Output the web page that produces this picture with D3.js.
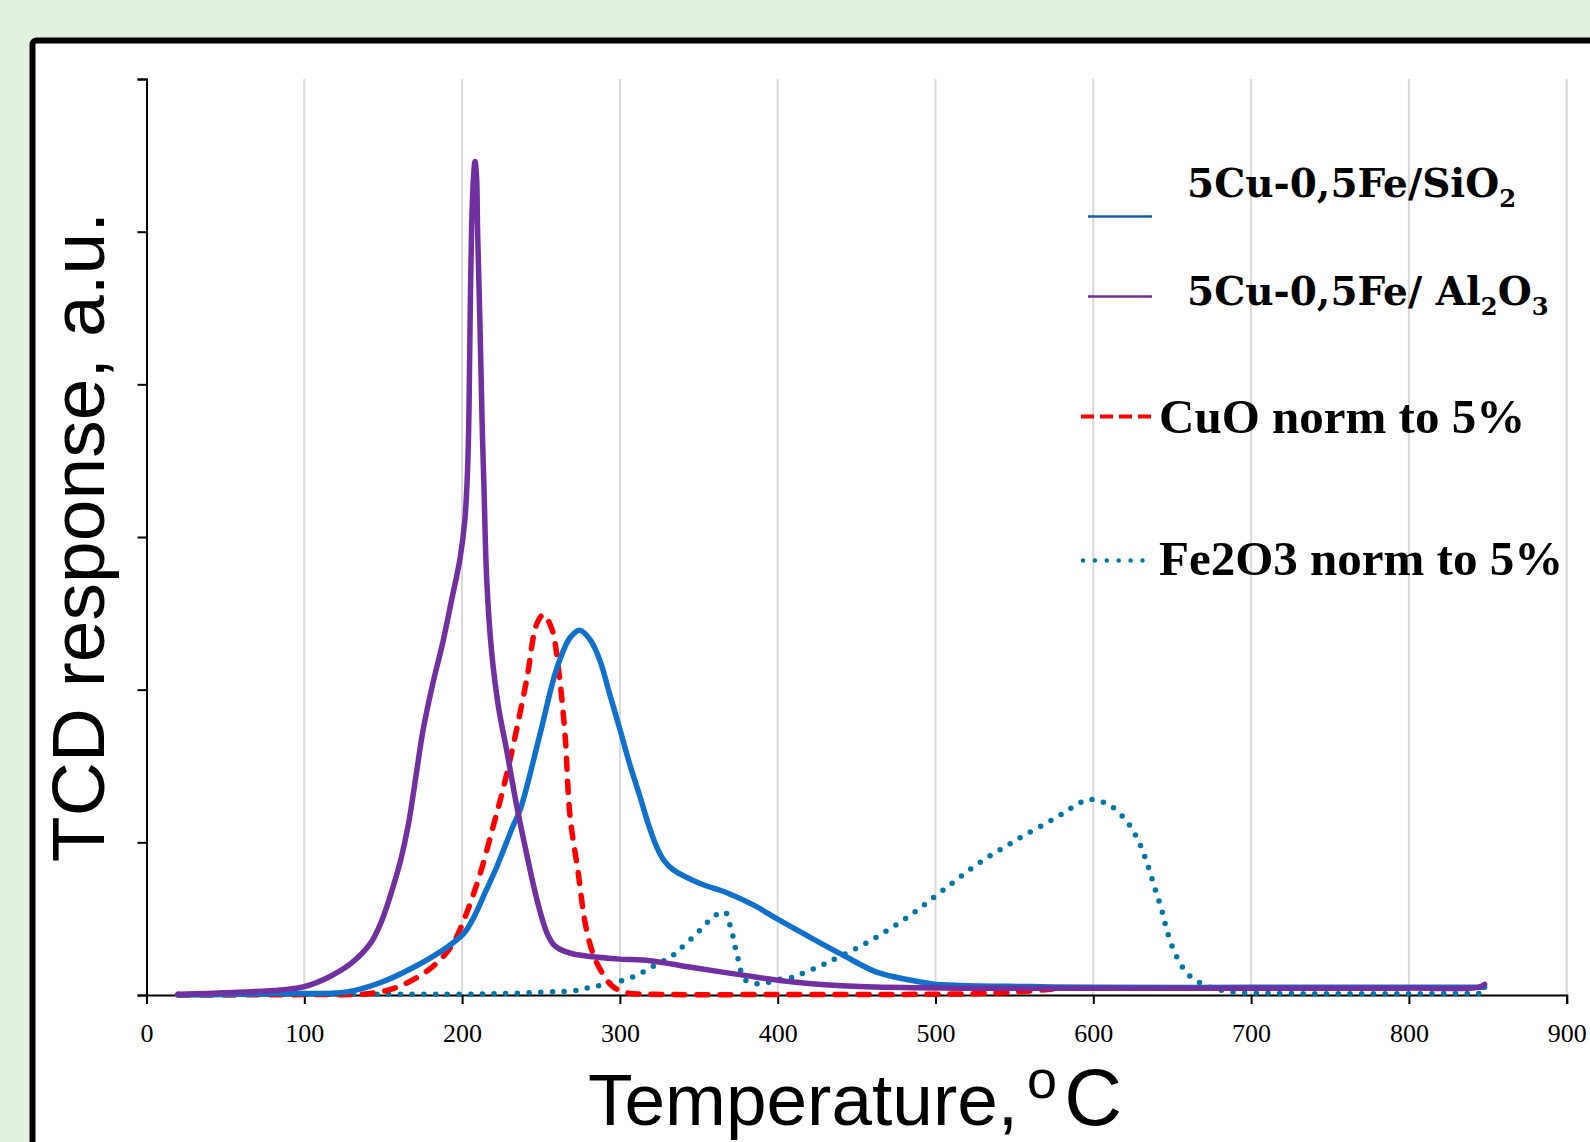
<!DOCTYPE html>
<html><head><meta charset="utf-8">
<script src="https://cdn.jsdelivr.net/npm/d3@7"></script>
<style>html,body{margin:0;padding:0;background:#e2f2de;overflow:hidden}</style>
</head><body>
<svg id="chart" width="1590" height="1142"></svg>
<script>
// ---------- data ----------
const xTicks = [0, 100, 200, 300, 400, 500, 600, 700, 800, 900];
const yTicks = [0, 1, 2, 3, 4, 5, 6];

const tSiO2 = [20, 50, 85, 127, 148, 169, 190, 200.8, 207, 215, 222, 232, 237, 249.4, 260, 268.4, 274.5, 281, 287.4, 293, 300, 306, 312.7, 318, 323.3, 328, 333.8, 350.8, 367.7, 384.5, 399.4, 418.4, 441.6, 462.7, 483.8, 498, 515.5, 560, 600, 700, 800, 848];
const vSiO2 = [0.0, 0.003, 0.01, 0.02, 0.08, 0.18, 0.31, 0.40, 0.50, 0.68, 0.84, 1.10, 1.22, 1.71, 2.14, 2.34, 2.39, 2.33, 2.19, 1.99, 1.74, 1.52, 1.30, 1.12, 0.97, 0.88, 0.82, 0.73, 0.67, 0.59, 0.50, 0.39, 0.26, 0.15, 0.098, 0.072, 0.062, 0.055, 0.05, 0.05, 0.05, 0.05];

const tAl2O3 = [20, 50, 85, 100, 116, 130, 142, 148, 152, 156, 161, 166, 171, 175, 181, 188, 193, 198.7, 201.8, 203.5, 204.4, 205, 206, 207.2, 208.2, 209.2, 209.8, 211.3, 212.8, 213.8, 215.6, 218.7, 223, 228.3, 234.6, 241, 247.3, 253.6, 258, 262, 270, 283, 300, 319, 346, 378, 410, 452, 515, 600, 700, 800, 844, 848];
const vAl2O3 = [0.005, 0.015, 0.033, 0.055, 0.12, 0.21, 0.34, 0.46, 0.57, 0.70, 0.88, 1.12, 1.45, 1.72, 2.02, 2.32, 2.57, 2.86, 3.12, 3.45, 3.85, 4.36, 5.01, 5.35, 5.46, 5.35, 5.01, 4.4, 3.7, 3.35, 2.72, 2.25, 1.89, 1.6, 1.24, 0.92, 0.63, 0.41, 0.33, 0.30, 0.27, 0.25, 0.235, 0.225, 0.18, 0.13, 0.085, 0.055, 0.045, 0.045, 0.045, 0.045, 0.05, 0.07];

const tCuO = [20, 100, 141.6, 158.5, 175.4, 186, 194.4, 203, 211.3, 219.6, 226, 232.5, 241, 247.3, 251.5, 256.8, 261, 265.2, 268.4, 273.6, 277.5, 282, 287.4, 295, 304, 320, 400, 480, 520, 551, 581];
const vCuO = [0.0, 0.003, 0.01, 0.05, 0.14, 0.23, 0.34, 0.54, 0.79, 1.10, 1.35, 1.64, 2.07, 2.43, 2.49, 2.40, 2.14, 1.71, 1.17, 0.80, 0.50, 0.30, 0.17, 0.06, 0.015, 0.005, 0.003, 0.004, 0.008, 0.02, 0.045];

const tFe2O3 = [20, 100, 200, 230, 255.8, 266.3, 274.3, 281, 288.4, 295.8, 303.7, 310.6, 317, 323.3, 330.7, 336, 341, 347.6, 354, 360.3, 366.6, 369.4, 371.3, 372.9, 374.6, 376.3, 379.3, 385.6, 393, 400, 407.3, 414, 431, 456, 481, 504, 527, 552, 577.7, 590, 597, 604, 611, 621.8, 629, 634.5, 639, 643.3, 647, 652.4, 660.6, 673, 688.6, 720, 848];
const vFe2O3 = [0.005, 0.005, 0.005, 0.01, 0.02, 0.024, 0.033, 0.05, 0.065, 0.083, 0.10, 0.13, 0.164, 0.20, 0.24, 0.28, 0.33, 0.39, 0.46, 0.52, 0.545, 0.47, 0.40, 0.32, 0.25, 0.17, 0.10, 0.075, 0.08, 0.10, 0.11, 0.135, 0.21, 0.34, 0.50, 0.68, 0.86, 1.02, 1.17, 1.25, 1.28, 1.27, 1.24, 1.13, 1.0, 0.85, 0.70, 0.56, 0.41, 0.26, 0.13, 0.055, 0.02, 0.01, 0.01];

const seriesNames = ["5Cu-0,5Fe/SiO2", "5Cu-0,5Fe/ Al2O3", "CuO norm to 5%", "Fe2O3 norm to 5%"];
const seriesColors = ["#1170cc", "#7030a0", "#ff0000", "#0077a6"];

// legend label pieces: [text, subscript?]
const legendParts = [
  [["5Cu-0,5Fe/SiO", false], ["2", true]],
  [["5Cu-0,5Fe/ Al", false], ["2", true], ["O", false], ["3", true]],
  [["CuO norm to 5%", false]],
  [["Fe2O3 norm to 5%", false]]
];

// ---------- drawing ----------
const svg = d3.select("#chart");
svg.append("rect").attr("x", 0).attr("y", 0).attr("width", 1590).attr("height", 1142).attr("fill", "#e2f2de");
svg.append("rect").attr("x", 32.5).attr("y", 40.5).attr("width", 1620).attr("height", 1200)
  .attr("rx", 4).attr("fill", "#ffffff").attr("stroke", "#000").attr("stroke-width", 6);

const x = d3.scaleLinear().domain([0, 900]).range([146.5, 1566.7]);
const y = d3.scaleLinear().domain([0, 6]).range([995, 79]);

// gridlines
svg.append("g").selectAll("line").data(xTicks.filter(d => d > 0)).join("line")
  .attr("x1", d => x(d)).attr("x2", d => x(d)).attr("y1", y(6)).attr("y2", y(0))
  .attr("stroke", "#d9d9d9").attr("stroke-width", 2);

// axes
const xAxis = svg.append("g").attr("transform", `translate(0,${y(0)})`)
  .call(d3.axisBottom(x).tickValues(xTicks).tickSize(9).tickFormat(d3.format("d")));
xAxis.select(".domain").attr("stroke", "#000").attr("stroke-width", 2);
xAxis.selectAll(".tick line").attr("stroke", "#000").attr("stroke-width", 2);
xAxis.selectAll(".tick text").attr("font-family", "'Liberation Serif', serif").attr("font-size", 26)
  .attr("fill", "#000").attr("y", 47).attr("dy", 0);

const yAxis = svg.append("g").attr("transform", `translate(${x(0)},0)`)
  .call(d3.axisLeft(y).tickValues(yTicks).tickSize(9).tickFormat(""));
yAxis.select(".domain").attr("stroke", "#000").attr("stroke-width", 2);
yAxis.selectAll(".tick line").attr("stroke", "#000").attr("stroke-width", 2);

// series
const mk = (ts, vs) => ts.map((t, i) => [t, vs[i]]);
const line = d3.line().x(d => x(d[0])).y(d => y(d[1])).curve(d3.curveCatmullRom.alpha(0.5));

const series = [
  {pts: mk(tFe2O3, vFe2O3), color: seriesColors[3], dash: "0,11.7", cap: "round", w: 5.5},
  {pts: mk(tCuO, vCuO), color: seriesColors[2], dash: "11,12", cap: "round", w: 5.5},
  {pts: mk(tSiO2, vSiO2), color: seriesColors[0], dash: null, cap: "round", w: 5.5},
  {pts: mk(tAl2O3, vAl2O3), color: seriesColors[1], dash: null, cap: "round", w: 5.5}
];
svg.append("g").selectAll("path").data(series).join("path")
  .attr("d", d => line(d.pts)).attr("fill", "none")
  .attr("stroke", d => d.color).attr("stroke-width", d => d.w)
  .attr("stroke-linecap", d => d.cap).attr("stroke-linejoin", "round")
  .attr("stroke-dasharray", d => d.dash);

// legend
const legendCfg = [
  {x1: 1088, x2: 1152, ly: 216.5, tx: 1187, ty: 197, size: 39, font: "'DejaVu Serif', serif", color: "#1b5ca6", w: 2.5, dash: null, cap: "butt"},
  {x1: 1088, x2: 1152, ly: 296.5, tx: 1187, ty: 305, size: 39, font: "'DejaVu Serif', serif", color: "#7030a0", w: 2.5, dash: null, cap: "butt"},
  {x1: 1081, x2: 1154, ly: 416.5, tx: 1159, ty: 433, size: 49, font: "'Liberation Serif', serif", color: "#ff0000", w: 4, dash: "13,6", cap: "butt"},
  {x1: 1083, x2: 1146, ly: 560.5, tx: 1159, ty: 575, size: 49, font: "'Liberation Serif', serif", color: "#0077a6", w: 4.5, dash: "0,11.9", cap: "round"}
];
const lg = svg.append("g");
legendCfg.forEach((c, i) => {
  lg.append("line").attr("x1", c.x1).attr("x2", c.x2).attr("y1", c.ly).attr("y2", c.ly)
    .attr("stroke", c.color).attr("stroke-width", c.w).attr("stroke-dasharray", c.dash)
    .attr("stroke-linecap", c.cap);
  const t = lg.append("text").attr("x", c.tx).attr("y", c.ty)
    .attr("font-family", c.font).attr("font-weight", "bold").attr("font-size", c.size).attr("fill", "#000");
  legendParts[i].forEach(([s, sub]) => {
    const ts = t.append("tspan").text(s);
    if (sub) ts.attr("font-size", c.size * 0.62).attr("dy", 10);
    else if (t.selectAll("tspan").size() > 1) ts.attr("dy", -10);
  });
});

// axis titles
svg.append("text").attr("transform", `translate(104,537) rotate(-90)`)
  .attr("text-anchor", "middle").attr("font-family", "'Liberation Sans', Arial, sans-serif")
  .attr("font-size", 75).attr("fill", "#000").text("TCD response, a.u.");

const xt = svg.append("text").attr("x", 588).attr("y", 1125).attr("text-anchor", "start")
  .attr("font-family", "'Liberation Sans', Arial, sans-serif").attr("font-size", 73).attr("fill", "#000");
xt.append("tspan").text("Temperature,");
xt.append("tspan").attr("font-size", 54).attr("dx", 9).attr("dy", -27).text("o");
xt.append("tspan").attr("font-size", 80).attr("dx", 7).attr("dy", 27).text("C");
</script>
</body></html>
